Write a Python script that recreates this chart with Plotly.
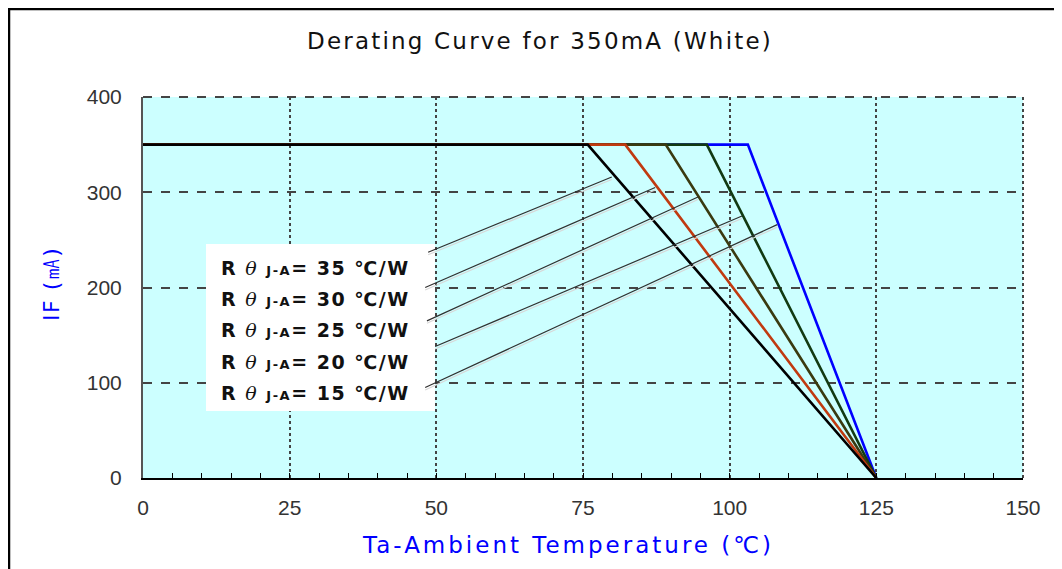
import plotly.graph_objects as go

# ---- data ----
rth_values = [35, 30, 25, 20, 15]             # R theta J-A (°C/W)
knee_temps = [75.8, 82.2, 89.1, 96.1, 103.1]  # Ta where derating starts
rated_current = 350                           # mA
zero_temp = 125                               # Ta at which IF = 0
line_colors = ["#000000", "#c03a10", "#3a3a10", "#123a12", "#0000ff"]

# leader line endpoints (label side -> curve side), data units
leader_start_x = [48.6, 48.1, 48.4, 49.8, 48.1]
leader_start_y = [237, 200, 165, 138, 95]
leader_end_x = [79.9, 87.3, 94.6, 102.1, 108.1]
leader_end_y = [316, 305, 295, 275, 266]

x_ticks = [0, 25, 50, 75, 100, 125, 150]
y_ticks = [0, 100, 200, 300, 400]

# helpers: screen pixel -> data / paper (plot area spans x 143..1023, y 97..478)
def dx(px):
    return (px - 143) / (880 / 150)

def dy(py):
    return (478 - py) / (381 / 400)

def px_(px):
    return (px - 143) / 880

def py_(py):
    return (478 - py) / 381

fig = go.Figure()

# draw blue first so black ends on top of the shared flat segment
for r, k, c in reversed(list(zip(rth_values, knee_temps, line_colors))):
    fig.add_trace(go.Scatter(
        x=[0, k, zero_temp], y=[rated_current, rated_current, 0],
        mode="lines", line=dict(color=c, width=2.6),
        name=f"{r}", showlegend=False, hoverinfo="skip"))

# label box
fig.add_shape(type="rect", xref="x", yref="y",
              x0=dx(206), x1=dx(435), y0=dy(411), y1=dy(244),
              fillcolor="white", line=dict(width=0), layer="above")

# leader lines with soft shadow
for sx, sy, ex, ey in zip(leader_start_x, leader_start_y, leader_end_x, leader_end_y):
    fig.add_shape(type="line", xref="x", yref="y", x0=sx, y0=sy - 2.6, x1=ex, y1=ey - 2.6,
                  line=dict(color="#d8d8d8", width=1.2), layer="above")
    fig.add_shape(type="line", xref="x", yref="y", x0=sx, y0=sy, x1=ex, y1=ey,
                  line=dict(color="#303030", width=1.2), layer="above")

label_y_px = [268, 299, 330, 362, 393]
for r, py in zip(rth_values, label_y_px):
    fig.add_annotation(
        x=dx(219), y=dy(py), xref="x", yref="y",
        xanchor="left", yanchor="middle", showarrow=False,
        text=(f"<span style='letter-spacing:1.5px'><b>R </b>"
              f"<span style='font-family:DejaVu Serif;font-weight:normal'><i>θ</i></span>"
              f"<b> <span style='font-size:13px'>J-A</span>= {r} ℃/W</b></span>"),
        font=dict(family="DejaVu Sans", size=19, color="#111111"))

# plot frame: dashed top, dotted right
fig.add_shape(type="line", xref="paper", yref="paper", x0=0, x1=1, y0=1, y1=1,
              line=dict(color="#444444", width=2, dash="dash"))
fig.add_shape(type="line", xref="paper", yref="paper", x0=1, x1=1, y0=0, y1=1,
              line=dict(color="#444444", width=2, dash="dot"))

# outer image border (left and top)
fig.add_shape(type="line", xref="paper", yref="paper",
              x0=px_(9), x1=px_(9), y0=py_(8), y1=py_(600),
              line=dict(color="#000000", width=2.5))
fig.add_shape(type="line", xref="paper", yref="paper",
              x0=px_(8), x1=px_(1100), y0=py_(9), y1=py_(9),
              line=dict(color="#000000", width=2.5))

# axis titles
fig.add_annotation(x=px_(568), y=py_(545), xref="paper", yref="paper",
                   showarrow=False, xanchor="center", yanchor="middle",
                   text="<span style='letter-spacing:3px'>Ta-Ambient Temperature (℃)</span>",
                   font=dict(family="DejaVu Sans", size=23, color="#0000ff"))
fig.add_annotation(x=px_(51), y=py_(284), xref="paper", yref="paper",
                   showarrow=False, xanchor="center", yanchor="middle", textangle=-90,
                   text="<span style='letter-spacing:1.5px'>IF (㎃)</span>",
                   font=dict(family="DejaVu Sans", size=22, color="#0000ff"))

fig.update_layout(
    width=1054, height=561,
    margin=dict(l=135, r=39, t=89, b=91),
    paper_bgcolor="white", plot_bgcolor="#ccffff",
    title=dict(text="<span style='letter-spacing:2.2px'>Derating Curve for 350mA (White)</span>",
               x=px_(540) * 880 / 1054 + 135 / 1054, xanchor="center",
               y=1 - 33 / 561, yanchor="middle", xref="container", yref="container",
               font=dict(family="DejaVu Sans", size=23, color="#111111")),
    showlegend=False,
)
fig.update_xaxes(
    range=[0, 150], tickvals=x_ticks, ticktext=[str(v) for v in x_ticks],
    showgrid=True, gridcolor="#444444", gridwidth=2, griddash="dot",
    zeroline=False, showline=True, linecolor="#000000", linewidth=2,
    ticks="inside", ticklen=5, tickcolor="#000000", tickwidth=1,
    minor=dict(dtick=5, tick0=0, ticks="inside", ticklen=5, tickcolor="#000000", tickwidth=1, showgrid=False),
    tickfont=dict(family="Liberation Sans Narrow, Liberation Sans", size=21, color="#333333"),
    ticklabelstandoff=10,
)
fig.update_yaxes(
    range=[0, 400], tickvals=y_ticks, ticktext=[str(v) for v in y_ticks],
    showgrid=True, gridcolor="#444444", gridwidth=2, griddash="dash",
    zeroline=False, showline=True, linecolor="#555555", linewidth=2,
    ticks="", tickfont=dict(family="Liberation Sans", size=21, color="#333333"),
    ticklabelstandoff=15,
)

fig.write_html("out.html")
